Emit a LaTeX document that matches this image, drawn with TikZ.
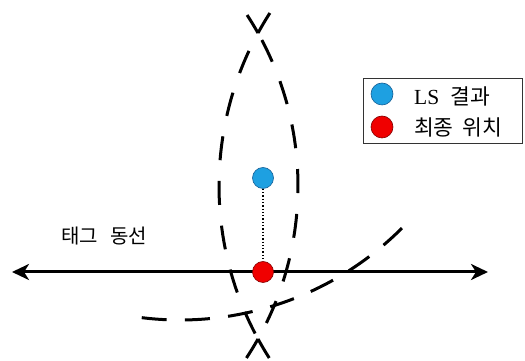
\documentclass[tikz,border=0pt]{standalone}
\usepackage{fontspec}
\setmainfont{Liberation Serif}
\newfontfamily\kr{Noto Sans CJK KR}
\usetikzlibrary{arrows.meta}
\definecolor{dotblue}{RGB}{30,160,225}
\definecolor{dotblueedge}{RGB}{20,95,150}
\definecolor{dotred}{RGB}{240,0,0}
\definecolor{dotrededge}{RGB}{130,0,0}
\begin{document}
\begin{tikzpicture}[x=1pt,y=1pt,
  arcline/.style={line width=3pt},
  dotshape/.style={circle, inner sep=0pt, minimum size=21pt, line width=0.6pt},
  bluedot/.style={dotshape, fill=dotblue, draw=dotblueedge},
  reddot/.style={dotshape, fill=dotred, draw=dotrededge},
  lbl/.style={font=\kr\fontsize{20}{24}\selectfont, inner sep=0pt, anchor=west},
  lglbl/.style={font=\kr\fontsize{21.5}{25}\selectfont, inner sep=0pt, anchor=west},
  track/.style={line width=3pt, {Stealth[length=17pt,width=16pt,inset=5pt]}-{Stealth[length=17pt,width=16pt,inset=5pt]}}]
\useasboundingbox (0,0) rectangle (525,361);
% dashed range circle (left arc of the lens)
\draw[arcline] (538.6,175) ++(147.23:319.6) arc[start angle=147.23,end angle=151.4,radius=319.6];
\draw[arcline, dash pattern=on 24pt off 20.8pt] (538.6,175) ++(155.0:319.6) arc[start angle=155.0,end angle=207.5,radius=319.6];
\draw[arcline] (538.6,175) ++(208.6:319.6) arc[start angle=208.6,end angle=212.56,radius=319.6];
% dashed range circle (right arc of the lens)
\draw[arcline] (-14.6,175) ++(33.16:312.6) arc[start angle=33.16,end angle=29.3,radius=312.6];
\draw[arcline, dash pattern=on 24pt off 20.95pt] (-14.6,175) ++(27.83:312.6) arc[start angle=27.83,end angle=-26.0,radius=312.6];
\draw[arcline] (-14.6,175) ++(-29.3:312.6) arc[start angle=-29.3,end angle=-33.38,radius=312.6];
% dashed range circle (lower arc)
\draw[arcline, dash pattern=on 25pt off 18.3pt] (180,355) ++(263:314) arc[start angle=263,end angle=315,radius=314];
% tag track
\coordinate (tl) at (12,89);
\coordinate (tr) at (488,89);
\draw[track] (tl) -- (tr);
\node[lbl] (tracklabel) at (61,125) {태그\hspace{12pt}동선};
% points
\node[bluedot] (ls) at (263,183) {};
\node[reddot] (final) at (263,89) {};
\draw[line width=1.3pt, dotted] (ls.south) -- (final.north);
% legend
\node[draw=black!80, line width=1.2pt, minimum width=159pt, minimum height=65pt, anchor=north west, inner sep=0pt] (legend) at (363,283) {};
\node[bluedot, minimum size=22pt] (lgblue) at (382,267) {};
\node[reddot, minimum size=22pt] (lgred) at (382,234) {};
\node[lglbl] (lgbluetxt) at (414,265) {{\rmfamily LS}\hspace{11pt}결과};
\node[lglbl] (lgredtxt) at (414,234) {최종\hspace{9pt}위치};
\end{tikzpicture}
\end{document}
